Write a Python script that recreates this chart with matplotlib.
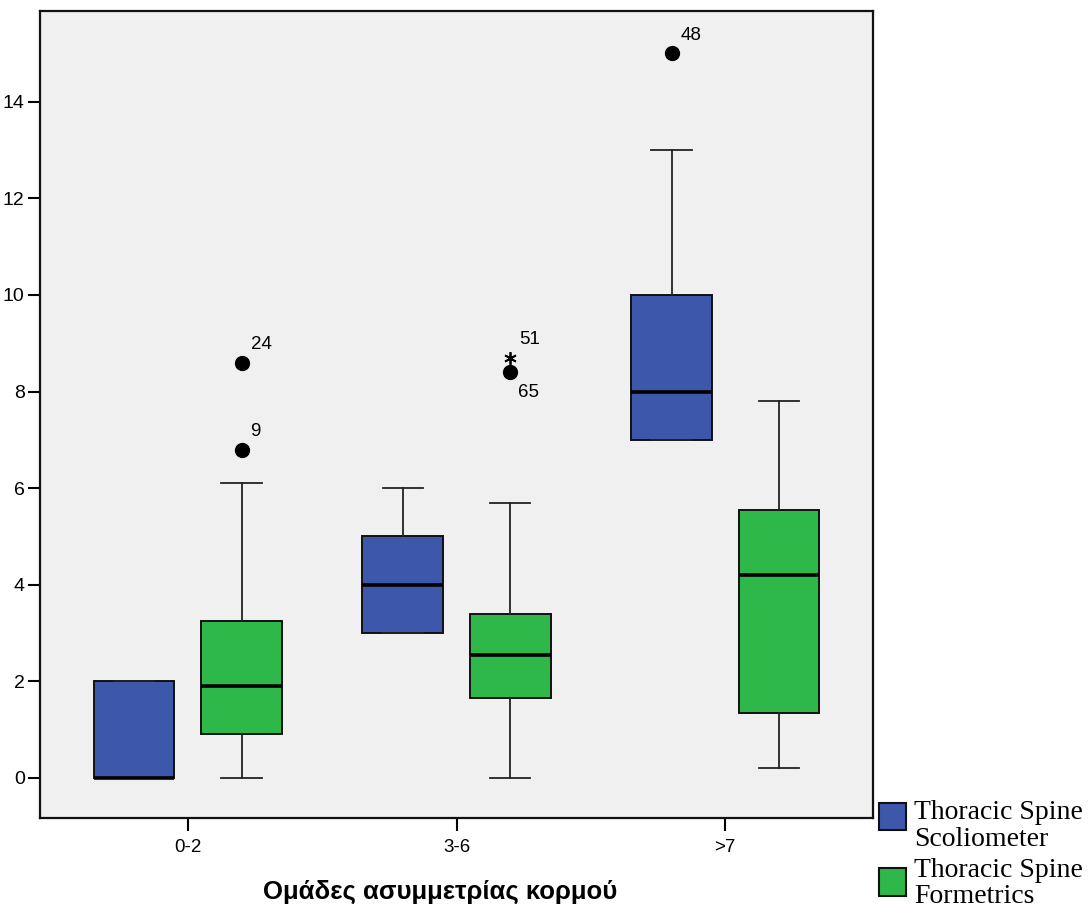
import matplotlib
matplotlib.use("Agg")
import matplotlib.pyplot as plt
from matplotlib.patches import Rectangle

# groups on the x axis and the two measurements per group
groups = ["0-2", "3-6", ">7"]
series = ["Thoracic Spine\nScoliometer", "Thoracic Spine\nFormetrics"]
colors = ["#3D58AA", "#2EB84A"]

# box statistics: whisker low, q1, median, q3, whisker high
scol_low = [0.0, 3.0, 7.0]
scol_q1 = [0.0, 3.0, 7.0]
scol_med = [0.0, 4.0, 8.0]
scol_q3 = [2.0, 5.0, 10.0]
scol_high = [2.0, 6.0, 13.0]

form_low = [0.0, 0.0, 0.2]
form_q1 = [0.9, 1.65, 1.35]
form_med = [1.9, 2.55, 4.2]
form_q3 = [3.25, 3.4, 5.55]
form_high = [6.1, 5.7, 7.8]

# outliers: (series index, group index, value, case label, kind)
outliers = [
    (1, 0, 8.6, "24", "o"),
    (1, 0, 6.8, "9", "o"),
    (1, 1, 8.7, "51", "*"),
    (1, 1, 8.4, "65", "o"),
    (0, 2, 15.0, "48", "o"),
]

plt.rcParams["font.family"] = ["Liberation Sans", "DejaVu Sans"]

fig = plt.figure(figsize=(10.9, 9.13), dpi=100)
ax = fig.add_axes([0.0367, 0.104, 0.7643, 0.884])
ax.set_facecolor("#F0F0F0")

offsets = [-0.2, 0.2]
stats_all = [
    (scol_low, scol_q1, scol_med, scol_q3, scol_high),
    (form_low, form_q1, form_med, form_q3, form_high),
]
for s, (lo, q1, med, q3, hi) in enumerate(stats_all):
    stats = []
    for g in range(len(groups)):
        stats.append({"whislo": lo[g], "q1": q1[g], "med": med[g],
                      "q3": q3[g], "whishi": hi[g], "fliers": []})
    ax.bxp(stats, positions=[g + offsets[s] for g in range(len(groups))],
           widths=0.3, patch_artist=True, showfliers=False,
           boxprops=dict(facecolor=colors[s], edgecolor="#111111", linewidth=1.4),
           medianprops=dict(color="black", linewidth=2.6),
           whiskerprops=dict(color="#222222", linewidth=1.3),
           capprops=dict(color="#222222", linewidth=1.3),
           capwidths=0.15)

for s, g, val, lab, kind in outliers:
    x = g + offsets[s]
    if kind == "o":
        ax.plot(x, val, "o", color="black", markersize=10, zorder=5)
    else:
        ax.plot(x, val, marker=(6, 2, 0), color="black", markersize=9,
                markeredgewidth=1.3, linestyle="none", zorder=5)
    if lab == "65":
        ax.annotate(lab, (x, val), xytext=(8, -20), textcoords="offset pixels",
                    fontsize=13.5, ha="left", va="center")
    else:
        ax.annotate(lab, (x, val), xytext=(9, 18), textcoords="offset pixels",
                    fontsize=13.5, ha="left", va="center")

ax.set_xlim(-0.55, 2.55)
ax.set_ylim(-0.83, 15.88)
ax.set_xticks(range(len(groups)))
ax.set_xticklabels(groups, fontsize=13.5)
ax.set_yticks(range(0, 16, 2))
ax.set_yticklabels([str(v) for v in range(0, 16, 2)], fontsize=14)
ax.tick_params(axis="y", direction="out", length=9, width=1.5, pad=2)
ax.tick_params(axis="x", direction="out", length=9, width=1.5, pad=6)
for sp in ax.spines.values():
    sp.set_linewidth(1.6)
    sp.set_color("#111111")
ax.set_xlabel("Ομάδες ασυμμετρίας κορμού", fontsize=18.5, fontweight="bold",
              labelpad=17)
ax.xaxis.label.set_x(0.48)

# legend drawn at the lower right, outside the frame
leg_y = [0.091, 0.019]
txt_y = [0.1235, 0.0605]
for s, name in enumerate(series):
    fig.add_artist(Rectangle((0.8065, leg_y[s]), 0.025, 0.030,
                             transform=fig.transFigure, facecolor=colors[s],
                             edgecolor="#111111", linewidth=1.5))
    fig.text(0.8385, txt_y[s], name, fontsize=20,
             family=["Liberation Serif", "DejaVu Serif"], va="top", ha="left",
             linespacing=1.08)

fig.savefig("out.png", dpi=100)
